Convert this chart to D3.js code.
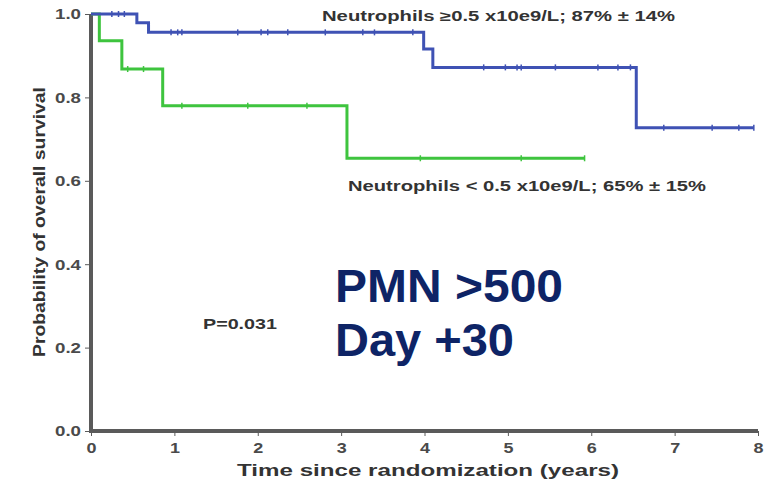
<!DOCTYPE html>
<html lang="en">
<head>
    <meta charset="UTF-8">
    <title>Overall survival by neutrophils at day +30</title>
    <script src="https://d3js.org/d3.v7.min.js"></script>
    <style>
        body {
            margin: 0;
            background-color: #ffffff;
        }

        svg {
            display: block;
            font-family: "Liberation Sans", Arial, sans-serif;
        }

        .axis path,
        .axis line {
            stroke: #5a5a5a;
        }

        .axis text {
            font-size: 15px;
            font-weight: bold;
            fill: #4a4a4a;
        }

        .curve {
            fill: none;
            stroke-width: 3px;
        }

        .censor {
            stroke-width: 1.5px;
        }

        .label {
            font-weight: bold;
            fill: #333333;
        }
    </style>
</head>
<body>
<svg width="769" height="489"></svg>
<script>
    // x axis ticks (years) and y axis ticks (probability)
    const xTicks = [0, 1, 2, 3, 4, 5, 6, 7, 8];
    const yTicks = [0, 0.2, 0.4, 0.6, 0.8, 1.0];

    // Neutrophils >= 0.5 x10e9/L
    const blueEventTimes = [0.55, 0.69, 3.99, 4.10, 6.54];
    const blueSurvival = [0.979, 0.956, 0.916, 0.872, 0.727];
    const blueCensorTimes = [0.25, 0.33, 0.40, 0.96, 1.04, 1.09, 1.76, 2.04, 2.12, 2.36, 2.81, 3.26, 3.40, 3.86,
        4.71, 4.97, 5.11, 5.16, 5.57, 6.08, 6.32, 6.47, 6.87, 7.45, 7.77, 7.95];
    const blueEnd = 7.95;

    // Neutrophils < 0.5 x10e9/L
    const greenEventTimes = [0.10, 0.37, 0.86, 3.07];
    const greenSurvival = [0.936, 0.868, 0.78, 0.654];
    const greenCensorTimes = [0.44, 0.63, 1.09, 1.88, 2.59, 3.95, 5.16, 5.92];
    const greenEnd = 5.92;

    const svg = d3.select("svg");

    const x = d3.scaleLinear().domain([0, 8]).range([91, 758]);
    const y = d3.scaleLinear().domain([0, 1]).range([431, 14]);

    // axes
    svg.append("g")
        .attr("class", "axis")
        .attr("transform", `translate(0,${y(0)})`)
        .call(d3.axisBottom(x).tickValues(xTicks).tickFormat(d3.format("d")).tickSize(5).tickPadding(6))
        .call(g => g.select(".domain").attr("stroke-width", 4).attr("d", `M${x(0) - 1},0H${x(8)}`))
        .call(g => g.selectAll("text").attr("textLength", 10).attr("lengthAdjust", "spacingAndGlyphs"));

    svg.append("g")
        .attr("class", "axis")
        .attr("transform", `translate(${x(0)},0)`)
        .call(d3.axisLeft(y).tickValues(yTicks).tickFormat(d3.format(".1f")).tickSize(6).tickPadding(4))
        .call(g => g.select(".domain").attr("stroke-width", 4).attr("d", `M0,${y(1)}V${y(0) + 2}`))
        .call(g => g.selectAll("text").attr("textLength", 26).attr("lengthAdjust", "spacingAndGlyphs"));

    // axis titles
    svg.append("text")
        .attr("class", "label")
        .attr("x", 428)
        .attr("y", 476)
        .attr("text-anchor", "middle")
        .attr("textLength", 382)
        .attr("lengthAdjust", "spacingAndGlyphs")
        .style("font-size", "17px")
        .text("Time since randomization (years)");

    svg.append("text")
        .attr("class", "label")
        .attr("transform", "rotate(-90)")
        .attr("x", -222)
        .attr("y", 45)
        .attr("text-anchor", "middle")
        .attr("textLength", 270)
        .attr("lengthAdjust", "spacingAndGlyphs")
        .style("font-size", "17px")
        .text("Probability of overall survival");

    function steps(times, surv, end) {
        const pts = [{t: 0, s: 1}];
        times.forEach((t, i) => pts.push({t: t, s: surv[i]}));
        pts.push({t: end, s: surv[surv.length - 1]});
        return pts;
    }

    function survAt(t, times, surv) {
        let s = 1;
        times.forEach((e, i) => { if (e <= t) s = surv[i]; });
        return s;
    }

    const line = d3.line()
        .x(d => x(d.t))
        .y(d => y(d.s))
        .curve(d3.curveStepAfter);

    const groups = [
        {times: greenEventTimes, surv: greenSurvival, censor: greenCensorTimes, end: greenEnd, color: "#3ec43e"},
        {times: blueEventTimes, surv: blueSurvival, censor: blueCensorTimes, end: blueEnd, color: "#3f52b4"}
    ];

    groups.forEach(grp => {
        svg.append("path")
            .datum(steps(grp.times, grp.surv, grp.end))
            .attr("class", "curve")
            .attr("stroke", grp.color)
            .attr("d", line);

        svg.selectAll(null)
            .data(grp.censor)
            .enter().append("line")
            .attr("class", "censor")
            .attr("stroke", grp.color)
            .attr("x1", d => x(d))
            .attr("x2", d => x(d))
            .attr("y1", d => y(survAt(d, grp.times, grp.surv)) - 3)
            .attr("y2", d => y(survAt(d, grp.times, grp.surv)) + 3);
    });

    // annotations
    svg.append("text")
        .attr("class", "label")
        .attr("x", 322)
        .attr("y", 21)
        .attr("textLength", 353)
        .attr("lengthAdjust", "spacingAndGlyphs")
        .style("font-size", "14px")
        .text("Neutrophils \u22650.5 x10e9/L; 87% \u00b1 14%");

    svg.append("text")
        .attr("class", "label")
        .attr("x", 348)
        .attr("y", 191)
        .attr("textLength", 358)
        .attr("lengthAdjust", "spacingAndGlyphs")
        .style("font-size", "14px")
        .text("Neutrophils < 0.5 x10e9/L; 65% \u00b1 15%");

    svg.append("text")
        .attr("class", "label")
        .attr("x", 203)
        .attr("y", 329)
        .attr("textLength", 74)
        .attr("lengthAdjust", "spacingAndGlyphs")
        .style("font-size", "14px")
        .text("P=0.031");

    svg.append("text")
        .attr("x", 335)
        .attr("y", 302)
        .attr("textLength", 228)
        .attr("lengthAdjust", "spacingAndGlyphs")
        .style("font-size", "47px")
        .style("font-weight", "bold")
        .style("fill", "#0e2466")
        .text("PMN >500");

    svg.append("text")
        .attr("x", 335)
        .attr("y", 356)
        .style("font-size", "47px")
        .style("font-weight", "bold")
        .style("fill", "#0e2466")
        .text("Day +30");
</script>
</body>
</html>
